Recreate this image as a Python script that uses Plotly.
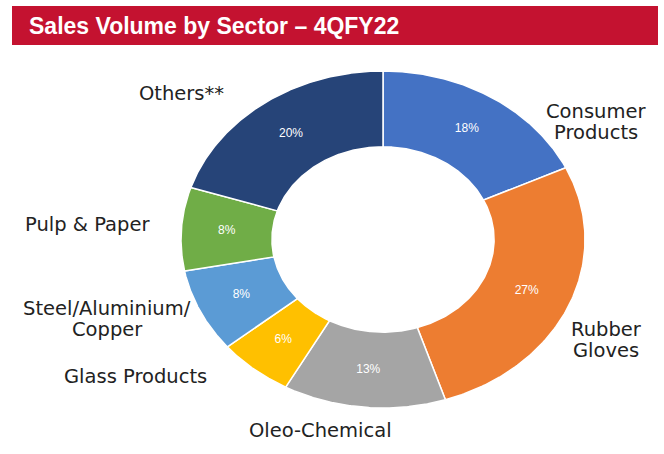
import numpy as np
import plotly.graph_objects as go

sectors = ["Consumer Products", "Rubber Gloves", "Oleo-Chemical", "Glass Products",
           "Steel/Aluminium/Copper", "Pulp & Paper", "Others**"]
shares = [18, 27, 13, 6, 8, 8, 20]
colors = ["#4472C4", "#ED7D31", "#A5A5A5", "#FFC000", "#5B9BD5", "#70AD47", "#264478"]
label_lines = [["Consumer", "Products"], ["Rubber", "Gloves"], ["Oleo-Chemical"], ["Glass Products"],
               ["Steel/Aluminium/", "Copper"], ["Pulp & Paper"], ["Others**"]]
label_pos = [(596, 111), (606, 329), (320, 430), (135, 376), (107, 308), (87, 224), (181, 93)]
LINE_GAP = 21

W, H = 664, 454
HOLE = 0.55
# donut pixel box (elliptical in the reference)
left, right, top, bottom = 181, 585, 71, 408

fig = go.Figure()
total = sum(shares)
cum = 0.0
for name, v, c in zip(sectors, shares, colors):
    a0 = cum / total * 2 * np.pi
    a1 = (cum + v) / total * 2 * np.pi
    cum += v
    t = np.linspace(a0, a1, 120)
    xo, yo = np.sin(t), np.cos(t)
    xs = np.concatenate([xo, HOLE * xo[::-1], [xo[0]]])
    ys = np.concatenate([yo, HOLE * yo[::-1], [yo[0]]])
    fig.add_trace(go.Scatter(x=xs, y=ys, mode="lines", fill="toself", fillcolor=c,
                             line=dict(color="white", width=1.5), name=name,
                             hoverinfo="name", showlegend=False))
    am = (a0 + a1) / 2
    rm = (1 + HOLE) / 2
    fig.add_trace(go.Scatter(x=[rm * np.sin(am)], y=[rm * np.cos(am)], mode="text",
                             text=[f"{v}%"], textposition="middle center",
                             textfont=dict(color="white", size=12, family="Liberation Sans, Arial"),
                             hoverinfo="skip", showlegend=False))

fig.add_shape(type="rect", xref="paper", yref="paper",
              x0=12 / W, x1=658 / W, y0=1 - 45 / H, y1=1 - 6 / H,
              fillcolor="#C41230", line=dict(width=0), layer="below")
fig.add_annotation(x=27 / W, y=1 - 26 / H, xref="paper", yref="paper", xanchor="left",
                   yanchor="middle", showarrow=False,
                   text="<b>Sales Volume by Sector – 4QFY22</b>",
                   font=dict(color="white", size=23, family="Liberation Sans, Arial"))

for lines, (x, y) in zip(label_lines, label_pos):
    for i, txt in enumerate(lines):
        fig.add_annotation(x=x / W, y=1 - (y + i * LINE_GAP) / H, xref="paper", yref="paper",
                           showarrow=False, text=txt, xanchor="center", yanchor="middle",
                           font=dict(color="#222222", size=19.5, family="DejaVu Sans"))

axis_common = dict(range=[-1.0, 1.0], showgrid=False, zeroline=False, showticklabels=False,
                   showline=False, ticks="", fixedrange=True)
fig.update_layout(width=W, height=H, margin=dict(l=0, r=0, t=0, b=0),
                  paper_bgcolor="white", plot_bgcolor="rgba(0,0,0,0)",
                  xaxis=dict(domain=[left / W, right / W], **axis_common),
                  yaxis=dict(domain=[1 - bottom / H, 1 - top / H], **axis_common))
fig.write_html("out.html")
